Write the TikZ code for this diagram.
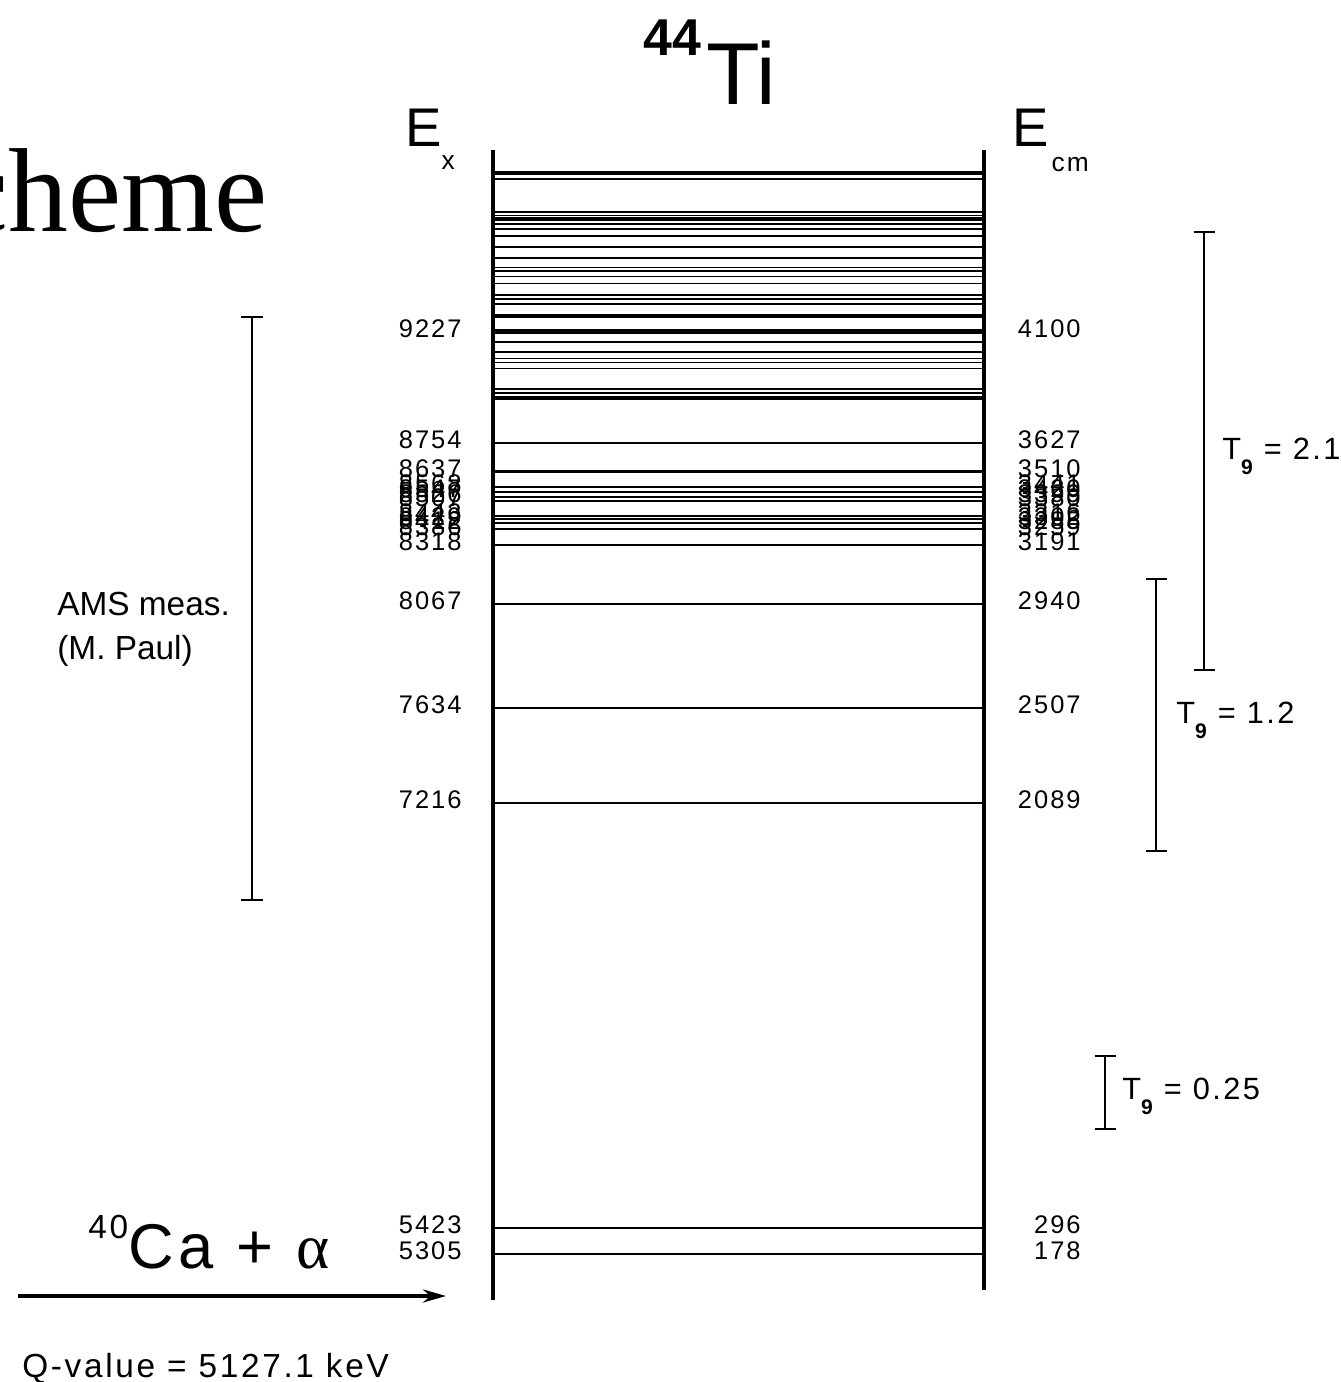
\documentclass[tikz,border=0pt]{standalone}
\usepackage{fontspec}
\setmainfont{Liberation Sans}[LetterSpace=8]
\newfontfamily\plainfont{Liberation Sans}
\newfontfamily\titlefont{Liberation Serif}
\usetikzlibrary{positioning, arrows.meta, calc}
\tikzset{
  axisline/.style={line width=2.2pt},
  level/.style={line width=1pt},
  strong/.style={line width=1.9pt},
  heavy/.style={line width=2.8pt},
  exlabel/.style={anchor=east, inner sep=0pt, font=\fontsize{14.5}{14.5}\selectfont},
  errbar/.style={line width=0.9pt, {Bar[width=4.2mm]}-{Bar[width=4.2mm]}},
  tlabel/.style={anchor=west, inner sep=0pt, font=\fontsize{17.5}{17.5}\selectfont},
  arrow/.style={line width=2.3pt, -{Stealth[length=4.6mm, width=2.6mm]}}
}
\newcommand{\tnine}{T\raisebox{-0.3cm}{\fontsize{12}{12}\selectfont\bfseries 9}}

\begin{document}
\begin{tikzpicture}[x=0.02cm, y=-0.02cm]
    \useasboundingbox (0,0) rectangle (1340,1382);

    % headings
    \node (title) [anchor=base east, inner sep=0pt, font=\titlefont\fontsize{68}{68}\selectfont] at (268,232) {cheme};
    \node (nucleus) [anchor=base west, inner sep=0pt, font=\plainfont\fontsize{50}{50}\selectfont] at (643,105) {\raisebox{1cm}{\fontsize{29.5}{29.5}\selectfont\bfseries 44}\hspace{0.1cm}Ti};
    \node (exhead) [anchor=base west, inner sep=0pt, font=\fontsize{31}{31}\selectfont] at (405,147) {E\raisebox{-0.46cm}{\fontsize{15}{15}\selectfont x}};
    \node (cmhead) [anchor=base west, inner sep=0pt, font=\fontsize{31}{31}\selectfont] at (1012,147) {E\hspace{0.06cm}\raisebox{-0.5cm}{\fontsize{15}{15}\selectfont cm}};

    % axes
    \coordinate (lt) at (493,150);
    \coordinate (lb) at (493,1300);
    \coordinate (rt) at (984,150);
    \coordinate (rb) at (984,1290);
    \draw [axisline] (lt) -- (lb);
    \draw [axisline] (rt) -- (rb);

    % levels without labels
    \foreach \y in {179,212,215.5,224,229,236,246.7,257.7,267.5,271,276.5,283.5,295,299.3,304,342,352,358.5,362.5,368.5,389,393}
        \draw [level] (lt |- 0,\y) -- (rt |- 0,\y);
    \foreach \y in {173,219,316,398}
        \draw [strong] (lt |- 0,\y) -- (rt |- 0,\y);
    \draw [heavy] (lt |- 0,331.5) -- (rt |- 0,331.5);
    \draw [strong] (lt |- 0,471.7) -- (rt |- 0,471.7);

    % levels with E_x and E_cm labels
    \foreach \y/\e in {443/8754,486.7/8568,491.7/8547,496.7/8526,501/8507,516/8443,519.3/8429,523.3/8412,529.3/8386,545/8318,604/8067,708/7634,803/7216,1228/5423,1254/5305}
        \draw [level] (lt |- 0,\y) -- (rt |- 0,\y);
    \foreach \y/\e in {331.5/9227,443/8754,471.7/8637,486.7/8568,491.7/8547,496.7/8526,501/8507,516/8443,519.3/8429,523.3/8412,529.3/8386,545/8318,604/8067,708/7634,803/7216,1228/5423,1254/5305}{
        \pgfmathtruncatemacro{\ecm}{\e-5127}
        \node (ex\e) [exlabel] at (462,\y-3) {\e};
        \node (cm\e) [exlabel] at (1081,\y-3) {\ecm};
    }

    % AMS range
    \coordinate (amstop) at (252,316);
    \coordinate (amsbot) at (252,901);
    \draw [errbar, {Bar[width=4.4mm]}-{Bar[width=4.4mm]}] (amstop) -- (amsbot);
    \node (ams) [anchor=north west, inner sep=0pt, align=left, font=\plainfont\fontsize{19}{25}\selectfont] at (57,592) {AMS meas.\\(M. Paul)};

    % temperature windows
    \coordinate (ta) at (1204,231);
    \coordinate (tb) at (1204,671);
    \draw [errbar] (ta) -- (tb);
    \node (thot) [tlabel] at (1222,456) {\tnine{} = 2.1};
    \coordinate (tc) at (1156,578);
    \coordinate (td) at (1156,852);
    \draw [errbar] (tc) -- (td);
    \node (tmid) [tlabel] at (1176,720) {\tnine{} = 1.2};
    \coordinate (te) at (1105,1055);
    \coordinate (tf) at (1105,1130);
    \draw [errbar] (te) -- (tf);
    \node (tlow) [tlabel] at (1122,1096) {\tnine{} = 0.25};

    % entrance channel
    \node (channel) [anchor=base west, inner sep=0pt, font=\fontsize{36}{36}\selectfont] at (88,1268) {\raisebox{0.6cm}{\fontsize{19}{19}\selectfont 40}Ca + {\titlefont α}};
    \coordinate (rstart) at (18,1296);
    \coordinate (rend) at (446,1296);
    \draw [arrow] (rstart) -- (rend);
    \node (qvalue) [anchor=base west, inner sep=0pt, font=\fontsize{19}{19}\selectfont] at (22,1377) {Q-value = 5127.1 keV};
\end{tikzpicture}
\end{document}
